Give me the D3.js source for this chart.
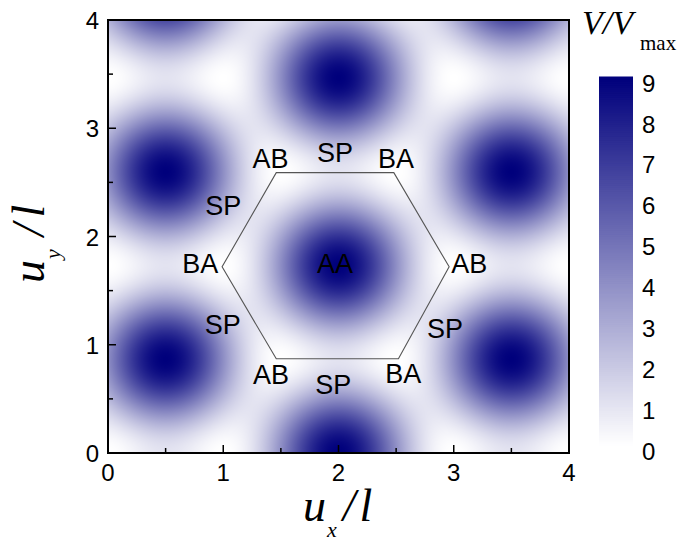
<!DOCTYPE html>
<html><head><meta charset="utf-8">
<script src="https://cdn.jsdelivr.net/npm/d3@7"></script>
<style>body{margin:0;background:#fff}</style>
</head><body><svg id="chart" width="679" height="539"></svg>
<script>
// ---- data ----
const xTicks = [0, 1, 2, 3, 4];
const yTicks = [0, 1, 2, 3, 4];
const minorTicks = [0.5, 1.5, 2.5, 3.5];
const colorTicks = [0, 1, 2, 3, 4, 5, 6, 7, 8, 9];
const valueRange = [0, 9];
// potential V/Vmax = 3 + 2*sum cos(k n_j.(u-u_AA)) (max 9 at AA, 0 at AB/BA, 1 at SP)
const aaOrigin = [2, 1.732];
const waveAngles = [0, 60, 120];
const waveNumber = 4 * Math.PI / 3;
const hexagon = [[1.46, 2.59], [2.48, 2.59], [2.96, 1.72], [2.52, 0.87], [1.46, 0.87], [0.99, 1.72]];
const siteNames = ["AB", "SP", "BA", "SP", "BA", "AA", "AB", "SP", "SP", "AB", "SP", "BA"];
const siteX = [1.41, 1.97, 2.50, 1.00, 0.80, 1.97, 3.135, 0.995, 2.924, 1.414, 1.955, 2.562];
const siteY = [2.72, 2.78, 2.72, 2.29, 1.75, 1.75, 1.75, 1.19, 1.15, 0.73, 0.637, 0.74];

// ---- layout ----
const L = 108, R = 569, T = 20, B = 453;
const svg = d3.select("#chart");
const x = d3.scaleLinear().domain([0, 4]).range([L, R]);
const y = d3.scaleLinear().domain([0, 4]).range([B, T]);
const color = d3.scaleLinear().domain(valueRange).range(["#ffffff", "#00007c"]).clamp(true);

function potential(ux, uy) {
  const dx = ux - aaOrigin[0], dy = uy - aaOrigin[1];
  let s = 0;
  for (const a of waveAngles) {
    const r = a * Math.PI / 180;
    s += Math.cos(waveNumber * (Math.cos(r) * dx + Math.sin(r) * dy));
  }
  return 3 + 2 * s;
}

// heatmap on canvas
const W = R - L, H = B - T;
const cv = document.createElement("canvas");
cv.width = W; cv.height = H;
const ctx = cv.getContext("2d");
const img = ctx.createImageData(W, H);
for (let j = 0; j < H; j++) {
  const uy = y.invert(T + j + 0.5);
  for (let i = 0; i < W; i++) {
    const ux = x.invert(L + i + 0.5);
    const c = d3.rgb(color(potential(ux, uy)));
    const k = 4 * (j * W + i);
    img.data[k] = c.r; img.data[k + 1] = c.g; img.data[k + 2] = c.b; img.data[k + 3] = 255;
  }
}
ctx.putImageData(img, 0, 0);
svg.append("image").attr("x", L).attr("y", T).attr("width", W).attr("height", H)
  .attr("href", cv.toDataURL());

// hexagon
svg.append("path")
  .attr("d", d3.line().x(d => x(d[0])).y(d => y(d[1])).curve(d3.curveLinearClosed)(hexagon))
  .attr("fill", "none").attr("stroke", "#555").attr("stroke-width", 1.1);

// site labels
svg.append("g").selectAll("text").data(siteNames).join("text")
  .attr("x", (d, i) => x(siteX[i])).attr("y", (d, i) => y(siteY[i]))
  .attr("text-anchor", "middle").attr("dy", "0.36em")
  .attr("font-family", "Liberation Sans, Arial, sans-serif").attr("font-size", 27)
  .attr("fill", "#000").text(d => d);

// ticks
const tickG = svg.append("g").attr("stroke", "#000").attr("stroke-width", 1.5);
tickG.selectAll(".xt").data(xTicks.concat(minorTicks)).join("line")
  .attr("x1", d => x(d)).attr("x2", d => x(d))
  .attr("y1", B).attr("y2", d => B - (Number.isInteger(d) ? 8 : 5));
tickG.selectAll(".yt").data(yTicks.concat(minorTicks)).join("line")
  .attr("class", "yt")
  .attr("y1", d => y(d)).attr("y2", d => y(d))
  .attr("x1", L).attr("x2", d => L + (Number.isInteger(d) ? 8 : 5));

// frame
svg.append("rect").attr("x", L).attr("y", T).attr("width", W).attr("height", H)
  .attr("fill", "none").attr("stroke", "#000").attr("stroke-width", 2);

// tick labels
const tf = "Liberation Sans, Arial, sans-serif";
svg.append("g").selectAll("text").data(xTicks).join("text")
  .attr("x", d => x(d)).attr("y", 481).attr("text-anchor", "middle")
  .attr("font-family", tf).attr("font-size", 24).text(d => d);
svg.append("g").selectAll("text").data(yTicks).join("text")
  .attr("x", 99).attr("y", d => y(d) + 9).attr("text-anchor", "end")
  .attr("font-family", tf).attr("font-size", 24).text(d => d);

// axis titles
const serif = "Liberation Serif, Times New Roman, serif";
const xt = svg.append("text").attr("transform", "translate(303,521)")
  .attr("font-family", serif).attr("font-style", "italic").attr("font-size", 46);
xt.append("tspan").text("u");
xt.append("tspan").attr("font-size", 22).attr("dy", 16).attr("dx", 1).text("x");
xt.append("tspan").attr("dy", -16).attr("dx", 6).text("/");
xt.append("tspan").attr("dx", 4).text("l");

const yt = svg.append("text").attr("transform", "translate(44,283) rotate(-90)")
  .attr("font-family", serif).attr("font-style", "italic").attr("font-size", 46);
yt.append("tspan").text("u");
yt.append("tspan").attr("font-size", 22).attr("dy", 16).attr("dx", 1).text("y");
yt.append("tspan").attr("dy", -16).attr("dx", 13).text("/");
yt.append("tspan").attr("dx", 6).text("l");

// color bar
const cy = d3.scaleLinear().domain(valueRange).range([445, 77]);
const steps = d3.range(0, 9, 0.05);
svg.append("g").selectAll("rect").data(steps).join("rect")
  .attr("x", 599).attr("width", 34)
  .attr("y", d => cy(d + 0.05) - 0.5).attr("height", d => cy(d) - cy(d + 0.05) + 1)
  .attr("fill", d => color(d + 0.025));
svg.append("g").selectAll("text").data(colorTicks).join("text")
  .attr("x", 642).attr("y", d => cy(d) + 6).attr("dy", "0.36em")
  .attr("font-family", tf).attr("font-size", 24).text(d => d);

const ct = svg.append("text").attr("x", 582).attr("y", 34)
  .attr("font-family", serif).attr("font-size", 34);
ct.append("tspan").attr("font-style", "italic").text("V");
ct.append("tspan").attr("font-style", "italic").text("/");
ct.append("tspan").attr("font-style", "italic").text("V");
svg.append("text").attr("x", 640).attr("y", 50).attr("font-family", serif)
  .attr("font-size", 21).text("max");
</script></body></html>
